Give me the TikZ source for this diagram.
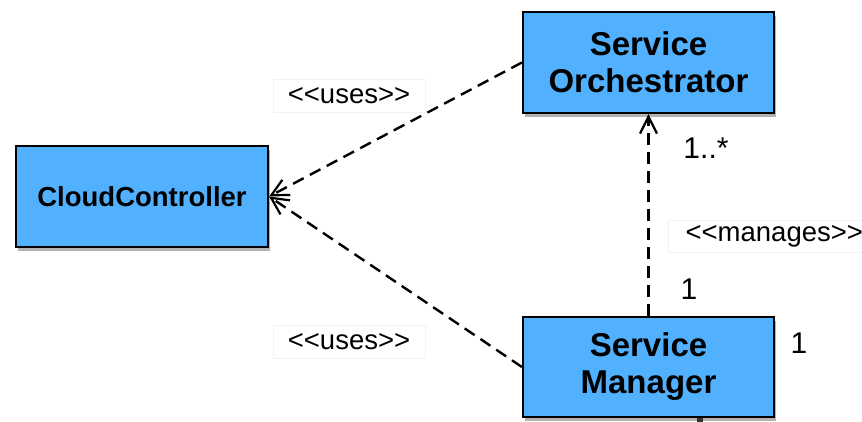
\documentclass[tikz,border=0pt]{standalone}
\usepackage{fontspec}
\setmainfont{Liberation Sans}
\usetikzlibrary{arrows.meta,shadows}
\definecolor{boxblue}{HTML}{52B1FF}
\tikzset{
  umlbox/.style={draw=black, line width=2.2pt, fill=boxblue, inner sep=0pt,
    align=center, font=\bfseries\fontsize{33}{37}\selectfont,
    drop shadow={shadow xshift=1.5pt, shadow yshift=-4pt, opacity=0.3, fill=black}},
  dep/.style={dashed, dash pattern=on 12pt off 7pt, line width=2.4pt,
    -{Straight Barb[length=17pt,width=17pt,line width=2.2pt]}},
  stereo/.style={draw=black!5, line width=0.6pt, inner sep=0pt, minimum width=152pt,
    minimum height=33pt, font=\fontsize{27.5}{30}\selectfont},
  mult/.style={inner sep=0pt, font=\fontsize{30}{32}\selectfont}
}
\begin{document}
\begin{tikzpicture}[x=1pt,y=-1pt]
\useasboundingbox (0,0) rectangle (862,422);
\node[umlbox, minimum width=252pt, minimum height=101pt, font=\bfseries\fontsize{27.5}{30}\selectfont] (cc) at (142,196.5) {CloudController};
\node[umlbox, minimum width=251pt, minimum height=101pt] (orch) at (648.5,62.5) {Service\\Orchestrator};
\node[umlbox, minimum width=251pt, minimum height=100pt] (mgr) at (648.5,367) {Service\\Manager};
\node[stereo] (u1) at (349,96) {<{}<uses>{}>};
\node[stereo] (u2) at (349,341.5) {<{}<uses>{}>};
\node[stereo, minimum width=200pt, minimum height=32pt, anchor=west] (mg) at (668,236) {\hspace*{12pt}<{}<manages>{}>\hfill};
\node[mult] (m1) at (706,148) {1..*};
\node[mult] (m2) at (689,289) {1};
\node[mult] (m3) at (799,343) {1};
\draw[dep] (orch.west) -- (cc.east);
\draw[dep] (mgr.west) -- (cc.east);
\draw[dep] (mgr.north) -- (orch.south);
\coordinate (stub) at (699.5,424);
\draw[line width=6pt, black!80] (mgr.south -| stub) -- (stub);
\end{tikzpicture}
\end{document}
